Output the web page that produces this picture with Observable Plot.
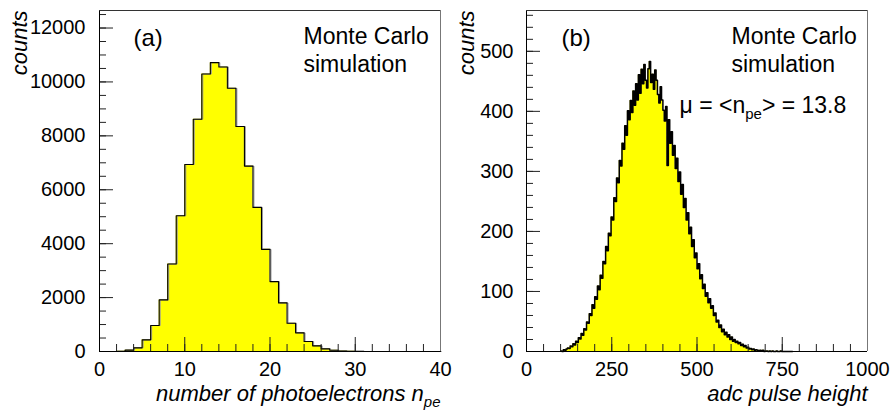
<!DOCTYPE html>
<html><head><meta charset="utf-8">
<script src="https://cdn.jsdelivr.net/npm/d3@7"></script>
<script src="https://cdn.jsdelivr.net/npm/@observablehq/plot@0.6"></script>
<style>
body{margin:0;background:#fff;}
#wrap{display:flex;width:891px;height:412px;overflow:hidden;}
#wrap svg{display:block;flex:none;max-width:none;}
</style></head><body><div id="wrap"></div>
<script>
const FONT = "'Liberation Sans', Arial, Helvetica, sans-serif";
const YELLOW = "#ffff00";

// ---------- Panel (a): number of photoelectrons ----------
const npeBinWidth = 1;
const npeCounts = [0, 0, 10, 50, 136, 432, 963, 1914, 3247, 5037,
  6938, 8618, 10296, 10716, 10556, 9766, 8346, 6877, 5346, 3790,
  2593, 1802, 1049, 691, 370, 210, 99, 49, 20, 10,
  4, 0, 0, 0, 0, 0, 0, 0, 0, 0];
const npeXTicks = [0, 10, 20, 30, 40];
const npeYTicks = [0, 2000, 4000, 6000, 8000, 10000, 12000];
const npeXDomain = [0, 40];
const npeYDomain = [0, 12650];

// ---------- Panel (b): adc pulse height ----------
const adcBinStart = 100;
const adcBinWidth = 4;
const adcCounts = [
  1, 0, 3, 2, 4, 6, 5, 9, 8, 13,
  11, 17, 15, 23, 21, 30, 27, 38, 36, 49,
  47, 63, 60, 78, 72, 91, 87, 109, 103, 127,
  122, 150, 146, 175, 168, 197, 193, 224, 219, 256,
  250, 289, 281, 318, 309, 347, 337, 376, 360, 401,
  386, 418, 398, 434, 410, 446, 419, 461, 430, 470,
  446, 478, 452, 439, 471, 483, 448, 462, 437, 469,
  452, 428, 414, 441, 419, 402, 384, 408, 310, 386,
  347, 366, 327, 343, 305, 322, 283, 299, 262, 278,
  240, 255, 219, 231, 196, 207, 175, 186, 156, 164,
  138, 146, 121, 128, 105, 112, 92, 98, 81, 88,
  72, 76, 60, 64, 49, 52, 40, 44, 33, 37,
  28, 32, 24, 28, 20, 24, 17, 20, 15, 17,
  13, 15, 10, 12, 8, 10, 6, 7, 4, 5,
  3, 4, 2, 3, 2, 1, 2, 1, 2, 0,
  1, 1, 0, 1, 0, 1, 0, 0, 1, 0,
  0, 1, 0, 0, 0, 0, 0, 0, 0, 0];
const adcXTicks = [0, 250, 500, 750, 1000];
const adcYTicks = [0, 100, 200, 300, 400, 500];
const adcXDomain = [0, 1000];
const adcYDomain = [0, 568];

function stepsFrom(start, width, counts) {
  const pts = counts.map((c, i) => ({x: start + i * width, y: c}));
  pts.push({x: start + counts.length * width, y: 0});
  return pts;
}

function panel(o) {
  const height = 412, marginTop = 10, marginBottom = 61;
  const fw = o.width - o.marginLeft - o.marginRight;
  const fh = height - marginTop - marginBottom;
  const xMinor = d3.range(o.xDomain[0], o.xDomain[1] + 1e-9, o.xMinorStep);
  const yMinor = d3.range(o.yDomain[0], o.yDomain[1], o.yMinorStep);
  const steps = o.steps;
  const marks = [
    Plot.areaY(steps, {x: "x", y: "y", curve: "step-after", fill: YELLOW}),
  ];
  if (o.shadow) marks.push(Plot.lineY(steps, {x: "x", y: "y", curve: "step-after", stroke: "#9a9a9a", strokeWidth: 1, dx: 1}));
  marks.push(
    Plot.lineY(steps, {x: "x", y: "y", curve: "step-after", stroke: "black", strokeWidth: o.lineWidth}),
    Plot.tickX(xMinor, {x: d => d, insetTop: fh - 7, stroke: "#222"}),
    Plot.tickX(o.xTicks, {x: d => d, insetTop: fh - 14, stroke: "#222"}),
    Plot.tickY(yMinor, {y: d => d, insetRight: fw - 7, stroke: "#222"}),
    Plot.tickY(o.yTicks, {y: d => d, insetRight: fw - 14, stroke: "#222"}),
    Plot.ruleX([o.xDomain[0]], {stroke: "black"}),
    Plot.ruleX([o.xDomain[1]], {stroke: "#777"}),
    Plot.ruleY([o.yDomain[0]], {stroke: "black"}),
    Plot.ruleY([o.yDomain[1]], {stroke: "#333"}),
    Plot.axisX({ticks: o.xTicks, tickSize: 0, tickPadding: 10, fontSize: 20, label: null, tickFormat: d => String(d)}),
    Plot.axisY({ticks: o.yTicks, tickSize: 0, tickPadding: o.yPad, fontSize: 20, label: null, tickFormat: d => String(d)}),
    Plot.text(["counts"], {frameAnchor: "top-left", dx: o.countsDx, dy: 0, rotate: -90, textAnchor: "end", lineAnchor: "bottom", fontStyle: "italic", fontSize: 22}),
    Plot.text([o.xLabel], {frameAnchor: "bottom-right", dx: 0, dy: 49, textAnchor: "end", lineAnchor: "bottom", fontStyle: "italic", fontSize: 22}),
    Plot.text([o.panelLabel], {frameAnchor: "top-left", dx: o.labelDx, dy: 35, textAnchor: "start", lineAnchor: "bottom", fontSize: 24}),
    Plot.text(["Monte Carlo"], {frameAnchor: "top-left", dx: o.mcDx, dy: 33, textAnchor: "start", lineAnchor: "bottom", fontSize: 23}),
    Plot.text(["simulation"], {frameAnchor: "top-left", dx: o.mcDx, dy: 61, textAnchor: "start", lineAnchor: "bottom", fontSize: 23})
  );
  if (o.extra) marks.push(o.extra);
  const svg = Plot.plot({
    width: o.width, height, marginTop, marginBottom,
    marginLeft: o.marginLeft, marginRight: o.marginRight,
    x: {domain: o.xDomain, axis: null},
    y: {domain: o.yDomain, axis: null},
    style: {fontFamily: FONT, background: "none", overflow: "visible", color: "black"},
    marks
  });
  // subscripts written as a_{bc}
  d3.select(svg).selectAll("text").each(function() {
    const t = this.textContent;
    const m = t.match(/^(.*?)_\{(.*?)\}(.*)$/);
    if (!m) return;
    const sel = d3.select(this);
    sel.text(null);
    sel.append("tspan").text(m[1]);
    sel.append("tspan").attr("dy", 6).attr("font-size", 15).text(m[2]);
    if (m[3]) sel.append("tspan").attr("dy", -6).text(m[3]);
  });
  return svg;
}

const left = panel({
  width: 445, marginLeft: 99, marginRight: 5,
  xDomain: npeXDomain, yDomain: npeYDomain,
  xTicks: npeXTicks, yTicks: npeYTicks, xMinorStep: 2, yMinorStep: 500,
  steps: stepsFrom(0, npeBinWidth, npeCounts),
  shadow: true, lineWidth: 1.1, yPad: 14, countsDx: -73,
  xLabel: "number of photoelectrons n_{pe}", panelLabel: "(a)", labelDx: 34, mcDx: 204
});

const right = panel({
  width: 446, marginLeft: 81, marginRight: 24,
  xDomain: adcXDomain, yDomain: adcYDomain,
  xTicks: adcXTicks, yTicks: adcYTicks, xMinorStep: 50, yMinorStep: 20,
  steps: stepsFrom(adcBinStart, adcBinWidth, adcCounts),
  shadow: false, lineWidth: 1.5, yPad: 13, countsDx: -53,
  xLabel: "adc pulse height", panelLabel: "(b)", labelDx: 35, mcDx: 205,
  extra: Plot.text(["μ = <n_{pe}> = 13.8"], {frameAnchor: "top-left", dx: 153, dy: 102, textAnchor: "start", lineAnchor: "bottom", fontSize: 23})
});

const wrap = document.getElementById("wrap");
wrap.appendChild(left);
wrap.appendChild(right);
</script></body></html>
